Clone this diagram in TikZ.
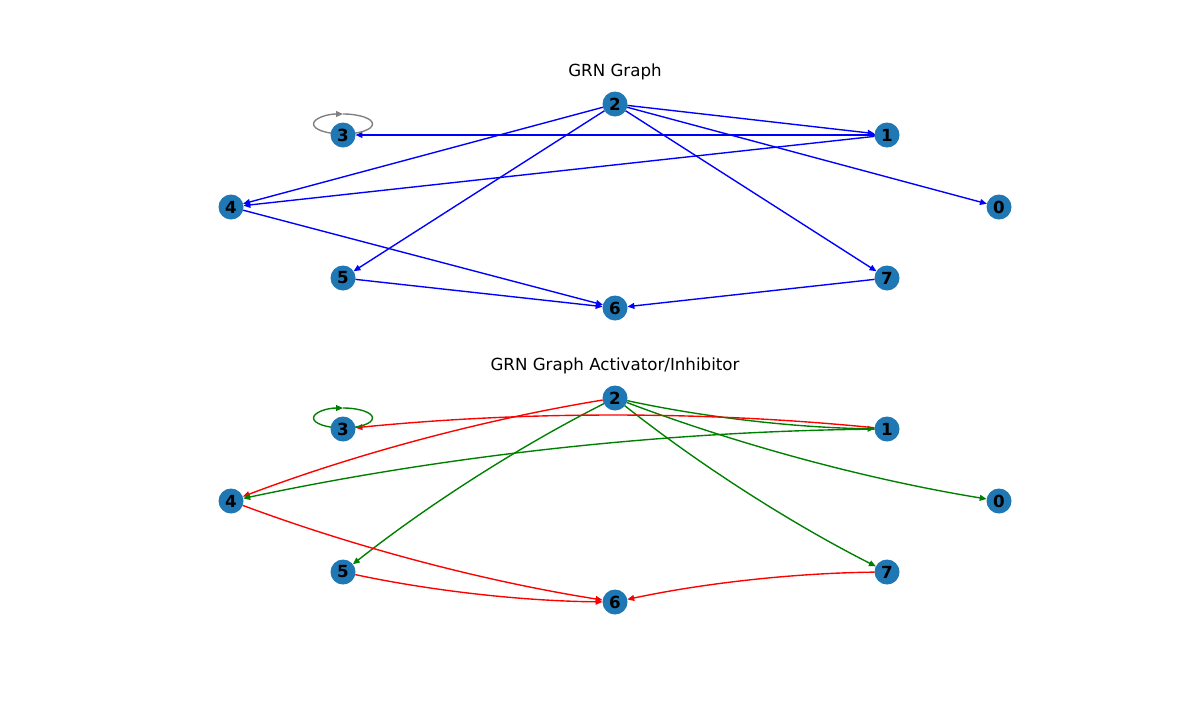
\documentclass[tikz,border=0pt]{standalone}
\usepackage{fontspec}
\setmainfont{DejaVu Sans}
\usetikzlibrary{arrows.meta,backgrounds,calc}
\definecolor{nodeblue}{RGB}{31,119,180}
\definecolor{mplgreen}{RGB}{0,128,0}
\tikzset{
  gnode/.style={circle,fill=nodeblue,minimum size=18pt,inner sep=0pt,outer sep=0pt,font=\fontsize{12}{14}\selectfont\bfseries},
  arr/.style={line width=1pt,-{Triangle[length=5pt,width=4.2pt]}},
  plainline/.style={line width=1pt},
  gtitle/.style={font=\fontsize{12}{14}\selectfont},
}
\begin{document}
\begin{tikzpicture}[x=0.72pt,y=-0.72pt]
\useasboundingbox (0,0) rectangle (1200,700);
% ---------- top graph ----------
\node[gtitle] (t1) at (615,71.5) {GRN Graph};
\node[gnode] (a2) at (615,104) {2};
\node[gnode] (a1) at (887,135) {1};
\node[gnode] (a3) at (343,135) {3};
\node[gnode] (a4) at (231,207) {4};
\node[gnode] (a0) at (999,207) {0};
\node[gnode] (a5) at (343,278) {5};
\node[gnode] (a7) at (887,278) {7};
\node[gnode] (a6) at (615,308) {6};
% ---------- bottom graph ----------
\node[gtitle] (t2) at (615,365.5) {GRN Graph Activator/Inhibitor};
\node[gnode] (b2) at (615,398) {2};
\node[gnode] (b1) at (887,429) {1};
\node[gnode] (b3) at (343,429) {3};
\node[gnode] (b4) at (231,501) {4};
\node[gnode] (b0) at (999,501) {0};
\node[gnode] (b5) at (343,572) {5};
\node[gnode] (b7) at (887,572) {7};
\node[gnode] (b6) at (615,602) {6};
\begin{scope}[on background layer]
% top edges
\draw[arr,blue] (a2) -- (a1);
\draw[arr,blue] (a2) -- (a0);
\draw[arr,blue] (a2) -- (a4);
\draw[arr,blue] (a2) -- (a5);
\draw[arr,blue] (a2) -- (a7);
\draw[arr,blue] (a1) -- (a3);
\draw[arr,blue] (a1) -- (a4);
\draw[arr,blue] (a4) -- (a6);
\draw[arr,blue] (a5) -- (a6);
\draw[arr,blue] (a7) -- (a6);
\draw[arr,gray] ($(a3.center)+(-29.5,-11)$) arc[start angle=180,end angle=90,x radius=21.24pt,y radius=7.2pt];
\draw[plainline,gray] ($(a3.center)+(0,-21)$) arc[start angle=90,end angle=-180,x radius=21.24pt,y radius=7.2pt];
% bottom edges
\draw[arr,mplgreen] (b2) .. controls (704.63,417.40) and (795.30,427.73) .. (b1);
\draw[arr,mplgreen] (b2) .. controls (739.57,445.13) and (867.57,479.47) .. (b0);
\draw[arr,mplgreen] (b2) .. controls (518.53,446.93) and (427.87,504.93) .. (b5);
\draw[arr,mplgreen] (b2) .. controls (699.87,465.07) and (790.53,523.07) .. (b7);
\draw[arr,red] (b2) .. controls (483.57,419.53) and (355.57,453.87) .. (b4);
\draw[arr,red] (b1) .. controls (705.67,410.87) and (524.33,410.87) .. (b3);
\draw[arr,mplgreen] (b1) .. controls (665.93,431.13) and (447.27,455.13) .. (b4);
\draw[arr,red] (b4) .. controls (355.63,547.47) and (483.63,581.13) .. (b6);
\draw[arr,red] (b5) .. controls (432.67,591.07) and (523.33,601.07) .. (b6);
\draw[arr,red] (b7) .. controls (795.33,572.93) and (704.67,582.93) .. (b6);
\draw[arr,mplgreen] ($(b3.center)+(-29.5,-11)$) arc[start angle=180,end angle=90,x radius=21.24pt,y radius=7.2pt];
\draw[plainline,mplgreen] ($(b3.center)+(0,-21)$) arc[start angle=90,end angle=-180,x radius=21.24pt,y radius=7.2pt];
\end{scope}
\end{tikzpicture}
\end{document}
